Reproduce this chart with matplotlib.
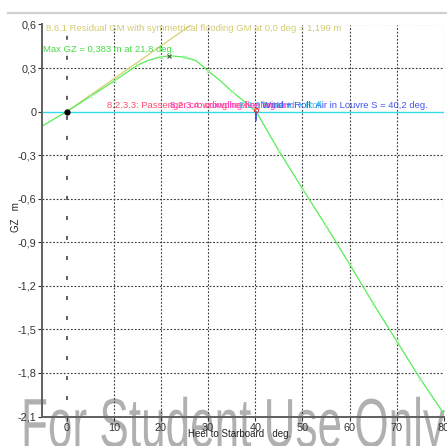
import matplotlib
matplotlib.use("Agg")
import matplotlib.pyplot as plt
from matplotlib.patheffects import AbstractPathEffect
from matplotlib.transforms import Affine2D
from matplotlib.lines import Line2D

# ---- data -------------------------------------------------------------
heel_deg = [-5.25, 0, 5, 10, 15, 17.5, 20, 21.8, 22.5, 25, 27.5, 30, 32.5,
            35, 37.5, 40.2, 45, 50, 55, 60, 65, 70, 75, 80]
gz_m = [-0.10, 0.0, 0.105, 0.21, 0.32, 0.355, 0.378, 0.383, 0.383, 0.375,
        0.35, 0.28, 0.215, 0.14, 0.075, 0.0, -0.27, -0.53, -0.786, -1.05,
        -1.32, -1.58, -1.84, -2.08]
marker_deg = [5, 10, 15, 20, 25, 30, 35, 45, 50, 55, 60, 65, 70, 75]

gm_line_deg = [0, 26.5]
gm_line_gz = [0, 0.6]

max_gz = 0.383
max_gz_deg = 21.8
angle_of_vanishing = 40.2

x_ticks = [0, 10, 20, 30, 40, 50, 60, 70, 80]
y_ticks = [0.6, 0.3, 0.0, -0.3, -0.6, -0.9, -1.2, -1.5, -1.8, -2.1]
y_tick_labels = ["0,6", "0,3", "0", "-0,3", "-0,6", "-0,9", "-1,2", "-1,5", "-1,8", "-2,1"]

FONT = ["Liberation Sans", "DejaVu Sans"]
plt.rcParams["font.family"] = FONT


class Stretch(AbstractPathEffect):
    """Scale glyph outlines about the text origin."""

    def __init__(self, sx=1.0, sy=1.0):
        super().__init__()
        self.sx, self.sy = sx, sy

    def draw_path(self, renderer, gc, tpath, affine, rgbFace=None):
        renderer.draw_path(gc, tpath, Affine2D().scale(self.sx, self.sy) + affine, rgbFace)


fig = plt.figure(figsize=(4.47, 4.46), dpi=100)
fig.patch.set_facecolor("white")
ax = fig.add_axes([42 / 447, 1 - 416.5 / 446, (444 - 42) / 447, (416.5 - 24.5) / 446])
ax.set_facecolor("none")

ax.set_xlim(-5.25, 80.05)
ax.set_ylim(-2.1, 0.6)

# grid
grid_kw = dict(color="#3a3a3a", lw=0.8, linestyle=(0, (1.6, 1.6)), zorder=1)
for xv in x_ticks[1:]:
    ax.axvline(xv, **grid_kw)
for yv in y_ticks:
    if yv != 0.0:
        ax.axhline(yv, **grid_kw)
ax.axvline(0, color="#333333", lw=1.1, linestyle=(2, (2.6, 10.5)), zorder=2)

# zero line
ax.axhline(0, color="#33dded", lw=1.0, zorder=2)

# GM line
ax.plot(gm_line_deg, gm_line_gz, color="#d8d070", lw=0.9, zorder=3)

# GZ curve
ax.plot(heel_deg, gz_m, color="#55ee55", lw=0.9, zorder=4)
mk = [gz_m[heel_deg.index(d)] for d in marker_deg]
ax.plot(marker_deg, mk, linestyle="none", marker="x", ms=3, mew=0.6,
        color="#a8f0a8", zorder=5)
ax.plot([max_gz_deg], [max_gz], linestyle="none", marker="x", ms=3, mew=0.8,
        color="#445544", zorder=6)
ax.plot([0], [0], marker="o", ms=3.5, color="black", zorder=6)

# angle of vanishing stability marker
ax.plot([angle_of_vanishing, angle_of_vanishing], [0, -0.06], color="#3344ee", lw=1.2, zorder=6)
ax.plot([angle_of_vanishing], [0.01], marker="o", ms=3, mfc="none", mec="#ee3333",
        mew=0.8, zorder=6)

# annotations
txt_fs = 6.8
ax.text(-4.5, 0.575, "8.6.1 Residual GM with symmetrical flooding GM at 0,0 deg = 1,199 m",
        color="#d4cc70", fontsize=txt_fs, va="center", ha="left", zorder=7)
ax.text(-5.1, 0.43, "Max GZ = 0,383 m at 21,8 deg.", color="#44dd44",
        fontsize=txt_fs, va="center", ha="left", zorder=7)
ax.text(8.55, 0.01, "8.2.3.3: Passenger crowding heeling arm", color="#ff4d6a",
        fontsize=txt_fs, va="bottom", ha="left", zorder=7)
ax.text(21.9, 0.01, "8.2.3.4: crowding heeling arm", color="#ff33cc",
        fontsize=txt_fs, va="bottom", ha="left", zorder=7)
ax.text(36.5, 0.01, "8.2.3.5: Wind + Roll", color="#33ccee",
        fontsize=txt_fs, va="bottom", ha="left", zorder=7)
ax.text(76.7, 0.01, "Wind + Roll: Air in Louvre S = 40,2 deg.", color="#4455ee",
        fontsize=txt_fs, va="bottom", ha="right", zorder=7)

# axes styling
for s in ["top", "right"]:
    ax.spines[s].set_visible(False)
for s in ["left", "bottom"]:
    ax.spines[s].set_color("#606060")
    ax.spines[s].set_linewidth(1.4)
    ax.spines[s].set_zorder(8)

ax.set_xticks(x_ticks)
ax.set_xticklabels([str(v) for v in x_ticks])
ax.set_yticks(y_ticks)
ax.set_yticklabels(y_tick_labels)
ax.tick_params(axis="both", colors="#333333", labelsize=7.8, length=3, width=0.8,
               direction="out", pad=1)
ax.tick_params(axis="x", pad=2)

fig.text(240 / 447, 1 - 434 / 446, "Heel to Starboard   deg.", fontsize=7,
         color="#222222", ha="center", va="center")
fig.text(16 / 447, 1 - 217 / 446, "GZ   m", fontsize=7, color="#222222",
         ha="center", va="center", rotation=90)

# header rule
fig.add_artist(Line2D([8 / 447, 1.0], [1 - 13 / 446, 1 - 13 / 446],
                      color="#d0d0d0", lw=1.6, transform=fig.transFigure))

# watermark, behind the chart
fig.text(21 / 447, 1 - 447 / 446, "For Student Use Only", fontsize=50,
         color="#b0b0b0", ha="left", va="baseline", zorder=-1,
         path_effects=[Stretch(0.635, 1.0)])

fig.savefig("out.png", dpi=100, facecolor="white")
